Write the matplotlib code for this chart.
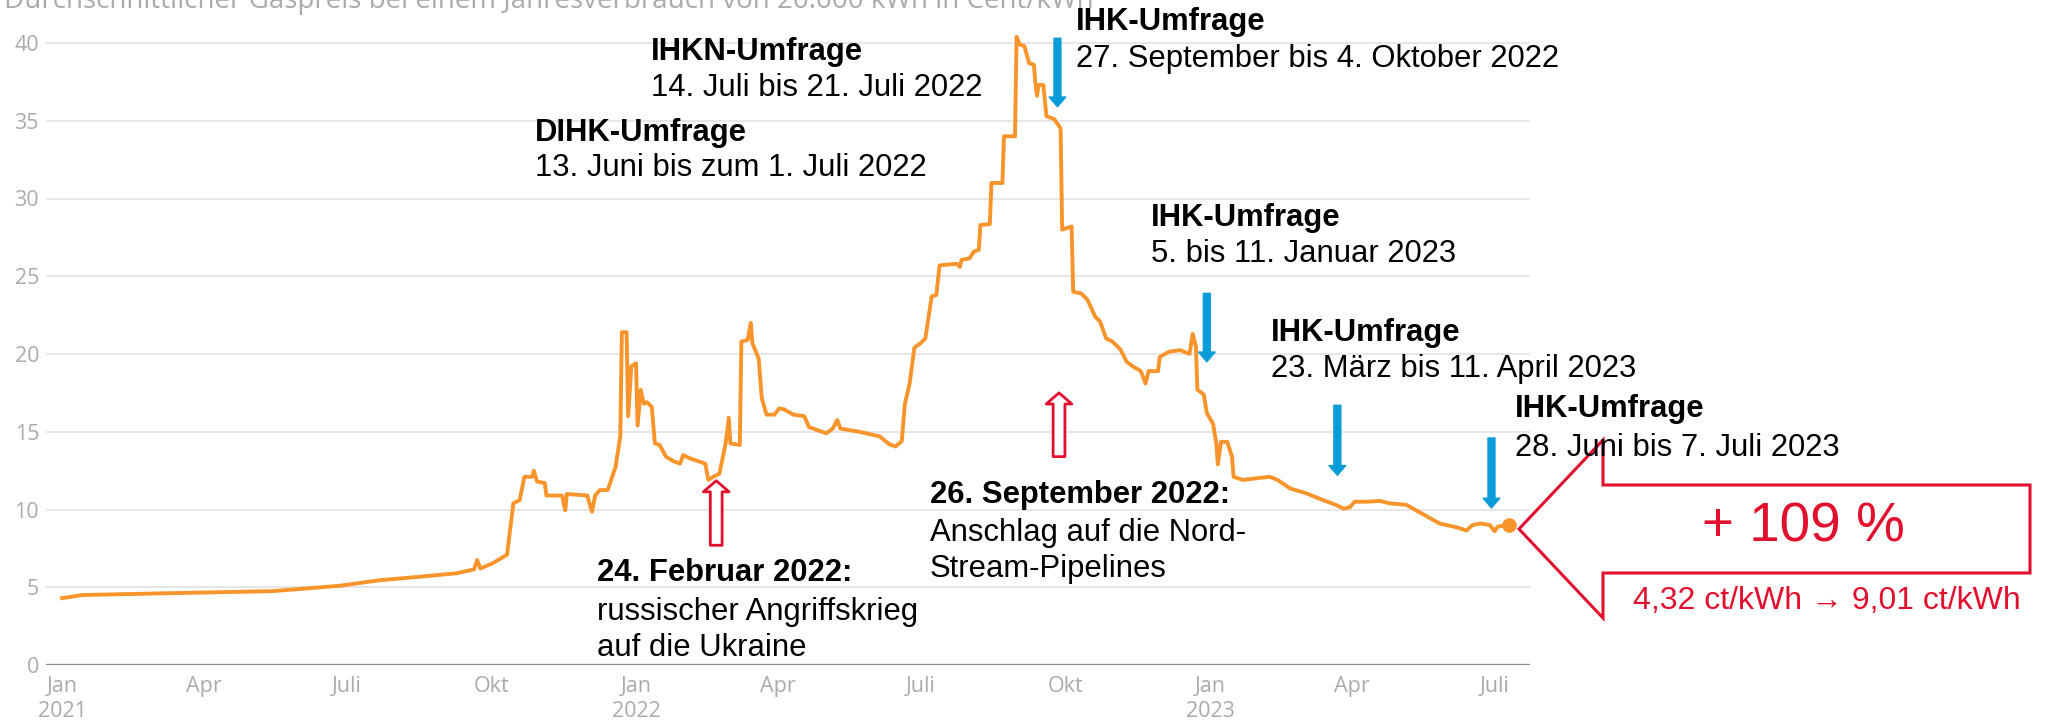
import numpy as np
import pandas as pd
import matplotlib
matplotlib.use("Agg")
import matplotlib.pyplot as plt
from matplotlib.patches import Polygon

# ---- data ----
START = "2021-01-01"

# days since 2021-01-01 / average gas price (ct/kWh)
price_days = [
    0, 13, 60, 134, 177, 202, 230, 251, 262, 264, 266, 274, 283, 287, 291, 294,
    299, 300, 302, 307, 308, 318, 320, 321, 334, 337, 339, 342, 347, 352, 355,
    356, 359, 360, 362, 365, 366, 368, 370, 372, 375, 377, 380, 384, 389, 393,
    395, 399, 409, 411, 414, 418, 422, 424, 425, 431, 432, 436, 438, 439, 443,
    445, 448, 453, 456, 459, 465, 472, 475, 486, 490, 493, 495, 507, 520, 526,
    530, 534, 536, 539, 542, 546, 549, 553, 556, 558, 569, 571, 572, 577, 580,
    583, 584, 590, 591, 598, 599, 606, 607, 609, 612, 615, 618, 619, 620, 621,
    624, 626, 631, 635, 636, 642, 643, 648, 652, 657, 660, 664, 668, 673, 677,
    681, 686, 689, 691, 697, 698, 704, 711, 717, 719, 721, 722, 726, 728, 732,
    734, 735, 737, 741, 744, 745, 751, 759, 768, 773, 781, 791, 802, 810, 815,
    819, 822, 830, 838, 844, 855, 861, 868, 876, 887, 893, 897, 902, 908, 911,
    913, 920,
]
price_values = [
    4.3, 4.5, 4.6, 4.75, 5.1, 5.45, 5.7, 5.9, 6.15, 6.75, 6.2, 6.55, 7.1, 10.4,
    10.6, 12.1, 12.1, 12.5, 11.8, 11.7, 10.9, 10.9, 9.95, 11.0, 10.9, 9.85,
    10.9, 11.25, 11.25, 12.75, 14.7, 21.4, 21.4, 16.0, 19.2, 19.4, 15.4, 17.7,
    16.8, 16.9, 16.6, 14.25, 14.15, 13.4, 13.1, 12.95, 13.5, 13.3, 12.95, 11.9,
    12.1, 12.3, 14.25, 15.9, 14.25, 14.15, 20.8, 20.9, 22.0, 20.7, 19.7, 17.15,
    16.1, 16.1, 16.5, 16.45, 16.1, 16.0, 15.3, 14.9, 15.2, 15.75, 15.2, 15.0,
    14.7, 14.2, 14.05, 14.4, 16.8, 18.1, 20.4, 20.7, 21.0, 23.7, 23.8, 25.7,
    25.8, 25.6, 26.05, 26.15, 26.6, 26.7, 28.3, 28.35, 31.0, 31.0, 34.0, 34.0,
    40.4, 39.9, 39.8, 38.7, 38.6, 37.4, 36.6, 37.3, 37.3, 35.3, 35.1, 34.5,
    28.0, 28.2, 24.0, 23.9, 23.5, 22.4, 22.1, 21.0, 20.8, 20.3, 19.5, 19.2,
    18.9, 18.1, 18.9, 18.9, 19.8, 20.15, 20.25, 20.0, 21.3, 20.5, 17.7, 17.4,
    16.2, 15.5, 14.25, 12.9, 14.35, 14.35, 13.4, 12.1, 11.9, 12.0, 12.1, 11.9,
    11.35, 11.05, 10.6, 10.3, 10.05, 10.15, 10.5, 10.5, 10.55, 10.4, 10.3, 9.95,
    9.55, 9.1, 8.85, 8.65, 9.0, 9.1, 9.0, 8.6, 8.9, 9.01,
]

tick_dates = ["2021-01-01", "2021-04-01", "2021-07-01", "2021-10-01",
              "2022-01-01", "2022-04-01", "2022-07-01", "2022-10-01",
              "2023-01-01", "2023-04-01", "2023-07-01"]
tick_labels = ["Jan\n2021", "Apr", "Juli", "Okt", "Jan\n2022", "Apr", "Juli",
               "Okt", "Jan\n2023", "Apr", "Juli"]
y_ticks = [0, 5, 10, 15, 20, 25, 30, 35, 40]

# survey arrows (blue): date, top value, tip value
survey_dates = ["2022-09-26", "2022-12-30", "2023-03-23", "2023-06-29"]
survey_top = [40.3, 23.9, 16.7, 14.6]
survey_tip = [35.9, 19.5, 12.2, 10.1]

# event arrows (red, hollow): date, bottom value, tip value
event_dates = ["2022-02-21", "2022-09-27"]
event_bottom = [7.7, 13.4]
event_tip = [11.85, 17.5]

TITLE = "Durchschnittlicher Gaspreis bei einem Jahresverbrauch von 20.000 kWh in Cent/kWh"

ORANGE = "#F7952C"
BLUE = "#0A9CD8"
RED = "#E2102F"
GRAY = "#ABABAB"

W, H = 2046, 726


def px(x, y):
    """image pixel (from top-left) -> figure fraction"""
    return x / W, 1 - y / H


start = pd.Timestamp(START)
dates = start + pd.to_timedelta(price_days, unit="D")

fig = plt.figure(figsize=(W / 100, H / 100), dpi=100)
ax = fig.add_axes([46 / W, (H - 665) / H, (1530 - 46) / W, (665 - 27.45) / H])

ax.plot(dates, price_values, color=ORANGE, lw=2.8, zorder=3)
ax.plot(dates[-1], price_values[-1], "o", ms=9.5, color=ORANGE, zorder=4)

ax.set_ylim(0, 41)
ax.set_xlim(start + pd.Timedelta(days=-10.2), start + pd.Timedelta(days=933.5))

ax.set_yticks(y_ticks)
ax.set_xticks(pd.to_datetime(tick_dates))
ax.set_xticklabels(tick_labels, linespacing=1.25)
ax.tick_params(axis="both", length=0, labelsize=15.5, labelcolor=GRAY)
ax.tick_params(axis="y", pad=5)
ax.tick_params(axis="x", pad=8)
for lab in ax.get_xticklabels() + ax.get_yticklabels():
    lab.set_fontfamily("Open Sans")

for s in ax.spines.values():
    s.set_visible(False)
ax.yaxis.grid(True, color="#E4E4E4", lw=1.3)
ax.set_axisbelow(True)
ax.axhline(0, color="#8A8A8A", lw=2.4, zorder=2)

# blue survey arrows
for d, top, tip in zip(survey_dates, survey_top, survey_tip):
    ax.annotate(
        "",
        xy=(pd.Timestamp(d), tip),
        xytext=(pd.Timestamp(d), top),
        arrowprops=dict(
            arrowstyle="simple,head_width=12,head_length=7,tail_width=5",
            mutation_scale=1,
            color=BLUE,
            shrinkA=0,
            shrinkB=0,
        ),
        annotation_clip=False,
        zorder=5,
    )

# red hollow event arrows
for d, bot, tip in zip(event_dates, event_bottom, event_tip):
    ax.annotate(
        "",
        xy=(pd.Timestamp(d), tip),
        xytext=(pd.Timestamp(d), bot),
        arrowprops=dict(
            arrowstyle="simple,head_width=18.5,head_length=8,tail_width=8.5",
            mutation_scale=1,
            fc="white",
            ec=RED,
            lw=2,
            shrinkA=0,
            shrinkB=0,
        ),
        annotation_clip=False,
        zorder=5,
    )

# title (cut off at the top in the original)
fig.text(*px(4, 8), TITLE, fontsize=20, color=GRAY, family="Open Sans",
         va="baseline", ha="left")

# annotation texts: (x, baseline y, text, bold)
FS = 22.3
notes = [
    (651, 60, "IHKN-Umfrage", True),
    (651, 96, "14. Juli bis 21. Juli 2022", False),
    (535, 141, "DIHK-Umfrage", True),
    (535, 176, "13. Juni bis zum 1. Juli 2022", False),
    (1076, 30, "IHK-Umfrage", True),
    (1076, 67, "27. September bis 4. Oktober 2022", False),
    (1151, 226, "IHK-Umfrage", True),
    (1151, 262, "5. bis 11. Januar 2023", False),
    (1271, 341, "IHK-Umfrage", True),
    (1271, 377, "23. März bis 11. April 2023", False),
    (1515, 417, "IHK-Umfrage", True),
    (1515, 456, "28. Juni bis 7. Juli 2023", False),
    (597, 581, "24. Februar 2022:", True),
    (597, 620, "russischer Angriffskrieg", False),
    (597, 656, "auf die Ukraine", False),
    (930, 503, "26. September 2022:", True),
    (930, 541, "Anschlag auf die Nord-", False),
    (930, 577, "Stream-Pipelines", False),
]
for x, y, t, bold in notes:
    fig.text(*px(x, y), t, fontsize=FS, color="black",
             family=["Liberation Sans", "DejaVu Sans"],
             fontweight="bold" if bold else "normal",
             va="baseline", ha="left", zorder=6)

# red callout arrow on the right
callout = [(1519, 529), (1603, 440), (1603, 485), (2030, 485),
           (2030, 573), (1603, 573), (1603, 618)]
fig.patches.append(Polygon([px(x, y) for x, y in callout], closed=True,
                           fill=False, ec=RED, lw=2.2,
                           transform=fig.transFigure, figure=fig))
fig.text(*px(1803, 528), "+ 109 %", fontsize=39.5, color=RED,
         family=["Liberation Sans", "DejaVu Sans"], ha="center", va="center")
fig.text(*px(1827, 601), "4,32 ct/kWh → 9,01 ct/kWh", fontsize=23,
         color=RED, family=["Liberation Sans", "DejaVu Sans"],
         ha="center", va="center")

fig.savefig("out.png", dpi=100)
